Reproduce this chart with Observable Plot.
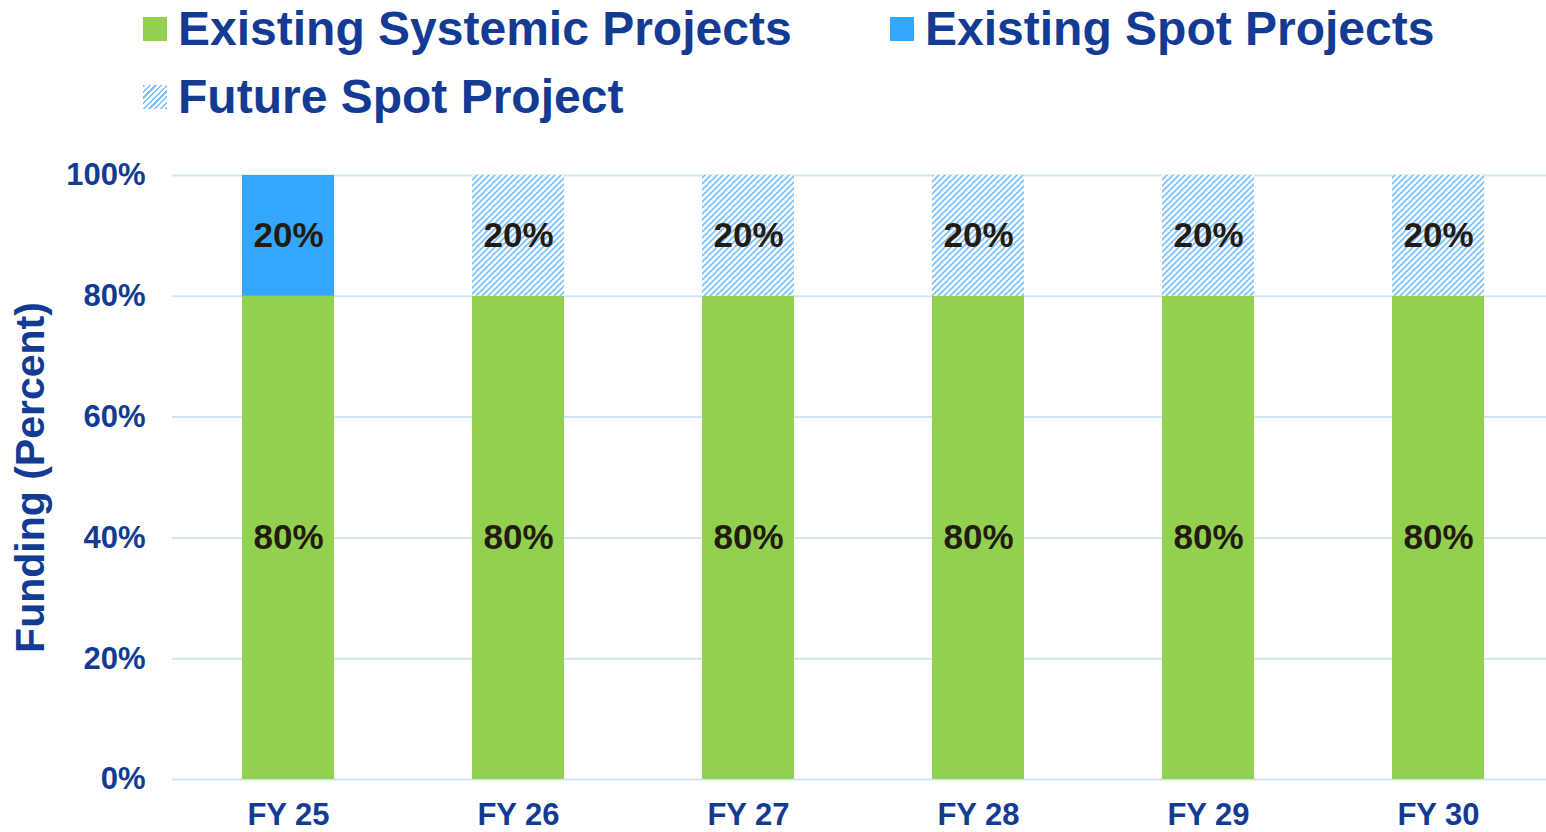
<!DOCTYPE html>
<html>
<head>
<meta charset="utf-8">
<script src="https://cdn.jsdelivr.net/npm/d3@7"></script>
<script src="https://cdn.jsdelivr.net/npm/@observablehq/plot@0.6"></script>
<style>
  html, body { margin: 0; padding: 0; background: #fff; }
  body { width: 1546px; height: 832px; overflow: hidden; font-family: "Liberation Sans", Arial, sans-serif; }
  #legend { position: relative; height: 130px; width: 1546px; }
  .item { position: absolute; display: flex; align-items: center; font-weight: bold; font-size: 48px; line-height: 56px; color: #133b94; white-space: nowrap; }
  .sw { width: 24px; height: 24px; margin-right: 11px; }
</style>
</head>
<body>
<div id="legend"></div>
<div id="chart"></div>
<script>
const years = ["FY 25", "FY 26", "FY 27", "FY 28", "FY 29", "FY 30"];
const seriesNames = ["Existing Systemic Projects", "Existing Spot Projects", "Future Spot Project"];
const systemic = [80, 80, 80, 80, 80, 80];
const existingSpot = [20, 0, 0, 0, 0, 0];
const futureSpot = [0, 20, 20, 20, 20, 20];
const yTicks = [0, 20, 40, 60, 80, 100];
const seriesColors = ["#92d050", "#33a6ff", "url(#hatch)"];

const data = [];
years.forEach((yr, i) => {
  [systemic, existingSpot, futureSpot].forEach((arr, j) => {
    if (arr[i] > 0) data.push({year: yr, series: seriesNames[j], value: arr[i]});
  });
});

// Legend
const legend = document.getElementById("legend");
const legendPos = [
  {left: 143, top: 1},
  {left: 890, top: 1},
  {left: 143, top: 69}
];
seriesNames.forEach((name, j) => {
  const it = document.createElement("div");
  it.className = "item";
  it.style.left = legendPos[j].left + "px";
  it.style.top = legendPos[j].top + "px";
  const sw = document.createElement("div");
  sw.className = "sw";
  if (j === 2) {
    sw.style.background = "repeating-linear-gradient(-45deg, #7cc0ff 0 1.5px, #ffffff 1.5px 4px)";
  } else {
    sw.style.background = seriesColors[j];
  }
  it.appendChild(sw);
  const t = document.createElement("span");
  t.textContent = name;
  it.appendChild(t);
  legend.appendChild(it);
});

const chart = Plot.plot({
  width: 1546,
  height: 702,
  marginLeft: 172,
  marginRight: 0,
  marginTop: 45,
  marginBottom: 53,
  style: {fontFamily: "Liberation Sans, Arial, sans-serif", fontWeight: "bold", background: "#fff"},
  x: {domain: years, paddingInner: 0.6, paddingOuter: 0.285, align: 0.53, label: null},
  y: {domain: [0, 100], label: null},
  color: {domain: seriesNames, range: seriesColors},
  marks: [
    Plot.gridY(yTicks, {stroke: "#cfe5f8", strokeOpacity: 1, strokeWidth: 2}),
    Plot.barY(data, {x: "year", y: "value", z: "series", fill: "series", order: seriesNames}),
    Plot.text(data, Plot.stackY({x: "year", y: "value", z: "series", order: seriesNames, text: d => d.value + "%", fill: "#231a10", fontSize: 35, fontWeight: "bold"})),
    Plot.axisY(yTicks, {tickSize: 0, tickPadding: 27, tickFormat: d => d + "%", fontSize: 31, fill: "#133b94", label: "Funding (Percent)", labelAnchor: "center", labelArrow: "none", labelOffset: 158}),
    Plot.axisX({tickSize: 0, tickPadding: 23, fontSize: 31, fill: "#133b94", label: null})
  ]
});

const ns = "http://www.w3.org/2000/svg";
const defs = document.createElementNS(ns, "defs");
defs.innerHTML = `<pattern id="hatch" patternUnits="userSpaceOnUse" width="6" height="6">
  <rect width="6" height="6" fill="#ffffff"/>
  <path d="M-1,1 l2,-2 M0,6 l6,-6 M5,7 l2,-2" stroke="#7cc0ff" stroke-width="1.7"/>
</pattern>`;
chart.insertBefore(defs, chart.firstChild);
document.getElementById("chart").appendChild(chart);

// Style the y-axis label
chart.querySelectorAll("text").forEach(t => {
  if (t.textContent === "Funding (Percent)") {
    t.setAttribute("font-size", "41");
    t.setAttribute("fill", "#133b94");
  }
});
</script>
</body>
</html>
